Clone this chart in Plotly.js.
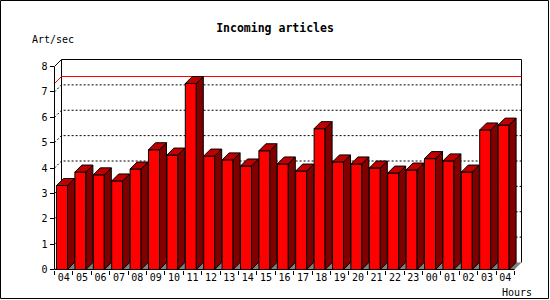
<!DOCTYPE html>
<html><head><meta charset="utf-8">
<script src="https://cdn.plot.ly/plotly-3.0.1.min.js"></script>
<style>html,body{margin:0;padding:0;background:#fff}</style>
</head><body><div id="chart" style="width:550px;height:300px"></div>
<script>
// ---- data ----
const hours = ['04','05','06','07','08','09','10','11','12','13','14','15','16','17','18','19','20','21','22','23','00','01','02','03','04'];
const artPerSec = [3.31,3.84,3.73,3.49,3.96,4.72,4.51,7.33,4.47,4.32,4.08,4.68,4.16,3.88,5.55,4.24,4.16,4.00,3.80,3.92,4.37,4.28,3.84,5.50,5.69];
const yTicks = [0,1,2,3,4,5,6,7,8];
const gridLevels = [1,2,3,4,5,6,7];

// ---- geometry (pixels) ----
const W = 550, H = 300;
const fL = 54.5, fR = 514.5, fB = 269.5, fT = 66.5, depth = 7, pad = 3.5;
const n = hours.length;
const yMax = 8;
const sx = (fR - fL) / n, sy = (fB - fT) / yMax;
const dx = depth / sx, dy = depth / sy;
const barW = 11 / sx, barOff = -0.5 + 2 / sx;
const idx = hours.map((_, i) => i);
const bounds = idx.map(i => i - 0.5).concat([n - 0.5]);
const peak = Math.max(...artPerSec);

const P = pts => 'M' + pts.map(p => p[0] + ',' + p[1]).join(' L') ;
const shapes = [];
const ax = {xref: 'x', yref: 'y'};
const xl = -0.5, xr = n - 0.5;

// floor
shapes.push(Object.assign({type: 'path', layer: 'below', path: P([[xl,0],[xr,0],[xr+dx,dy],[xl+dx,dy]]) + ' Z',
  fillcolor: '#808080', line: {width: 0}}, ax));
// dotted grid
gridLevels.forEach(k => shapes.push(Object.assign({type: 'path', layer: 'below',
  path: P([[xl,k],[xl+dx,k+dy],[xr+dx,k+dy]]), line: {color: '#000', width: 1, dash: '2px,2px'}}, ax)));
// back wall frame
shapes.push(Object.assign({type: 'path', layer: 'below',
  path: P([[xl,yMax],[xl+dx,yMax+dy],[xr+dx,yMax+dy],[xr+dx,dy]]), line: {color: '#000', width: 1}}, ax));
shapes.push(Object.assign({type: 'path', layer: 'below',
  path: P([[xl+dx,dy],[xl+dx,yMax+dy]]), line: {color: '#000', width: 1}}, ax));
// peak line
shapes.push(Object.assign({type: 'path', layer: 'below',
  path: P([[xl,peak],[xl+dx,peak+dy],[xr+dx,peak+dy]]), line: {color: '#ff0000', width: 1}}, ax));
// bar sides and tops
artPerSec.forEach((v, i) => {
  const a = i + barOff, b = a + barW;
  shapes.push(Object.assign({type: 'path', layer: 'above',
    path: P([[b,0],[b+dx,dy],[b+dx,v+dy],[b,v]]) + ' Z', fillcolor: '#800000', line: {color: '#000', width: 1}}, ax));
  shapes.push(Object.assign({type: 'path', layer: 'above',
    path: P([[a,v],[a+dx,v+dy],[b+dx,v+dy],[b,v]]) + ' Z', fillcolor: '#c00000', line: {color: '#000', width: 1}}, ax));
});
// front axis lines
shapes.push(Object.assign({type: 'path', layer: 'above',
  path: P([[xl,yMax],[xl,0],[xr,0]]), line: {color: '#000', width: 1}}, ax));
// outer border
shapes.push({type: 'rect', xref: 'paper', yref: 'paper', layer: 'above',
  x0: 0.5 / W, x1: 548.5 / W, y0: 1 - 298.5 / H, y1: 1 - 0.5 / H, line: {color: '#000', width: 1}});

const font = {family: 'DejaVu Sans Mono', size: 10, color: '#000'};

const data = [{
  type: 'bar', x: idx, y: artPerSec, xaxis: 'x2', yaxis: 'y2',
  width: barW, offset: barOff, cliponaxis: false, hoverinfo: 'skip',
  marker: {color: '#ff0000', line: {color: '#000', width: 1}}
}];

const layout = {
  width: W, height: H, margin: {l: 0, r: 0, t: 0, b: 0, pad: 0},
  paper_bgcolor: '#fff', plot_bgcolor: 'rgba(0,0,0,0)', showlegend: false,
  font: font,
  title: {text: 'Incoming articles', x: 275 / W, xanchor: 'center', y: 1 - 28 / H, yanchor: 'middle',
    font: {family: 'DejaVu Sans Mono', size: 11.5, weight: 'bold', color: '#000'}},
  xaxis: {domain: [(fL - pad) / W, (fR + depth + pad) / W], range: [xl - pad / sx, xr + (depth + pad) / sx],
    visible: false, fixedrange: true, anchor: 'y'},
  yaxis: {domain: [(H - fB - pad) / H, (H - fT + depth + pad) / H], range: [-pad / sy, yMax + (depth + pad) / sy],
    visible: false, fixedrange: true, anchor: 'x'},
  xaxis2: {domain: [fL / W, fR / W], range: [xl, xr], anchor: 'y2',
    tickmode: 'array', tickvals: idx, ticktext: hours, ticks: '', showline: false, showgrid: false, zeroline: false,
    tickfont: font,
    minor: {tickmode: 'array', tickvals: bounds, ticks: 'outside', ticklen: 4, tickwidth: 1, tickcolor: '#000', showgrid: false}},
  yaxis2: {domain: [(H - fB) / H, (H - fT) / H], range: [0, yMax], anchor: 'x2',
    tickmode: 'array', tickvals: yTicks, ticks: 'outside', ticklen: 4, tickwidth: 1, tickcolor: '#000',
    showline: false, showgrid: false, zeroline: false, tickfont: font},
  annotations: [
    {text: 'Art/sec', xref: 'paper', yref: 'paper', x: 29.5 / W, xanchor: 'left', y: 1 - 39 / H, yanchor: 'middle', showarrow: false, font: font},
    {text: 'Hours', xref: 'paper', yref: 'paper', x: 534 / W, xanchor: 'right', y: 1 - 292.5 / H, yanchor: 'middle', showarrow: false, font: font}
  ],
  shapes: shapes
};

Plotly.newPlot('chart', data, layout, {staticPlot: true, displayModeBar: false});
</script></body></html>
